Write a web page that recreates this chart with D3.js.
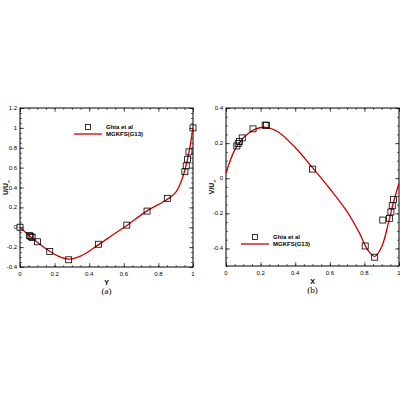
<!DOCTYPE html><html><head><script src="https://cdn.jsdelivr.net/npm/d3@7"></script>
<style>body{margin:0;background:#fff}text{font-family:"Liberation Sans",Arial,sans-serif}</style></head><body>
<svg id="c" width="400" height="400"></svg>
<script>
const ghiaY=[0,0.0547,0.0625,0.0703,0.1016,0.1719,0.2813,0.4531,0.6172,0.7344,0.8516,0.9531,0.9609,0.9688,0.9766,1];
const ghiaU=[0,-0.08186,-0.09266,-0.10338,-0.14612,-0.24299,-0.32726,-0.17119,0.02135,0.16256,0.29093,0.55892,0.61756,0.68439,0.75837,1];
const ghiaX=[0.0625,0.0703,0.0781,0.0938,0.1563,0.2266,0.2344,0.5,0.8047,0.8594,0.9063,0.9453,0.9531,0.9609,0.9688];
const ghiaV=[0.1836,0.19713,0.2092,0.22965,0.28124,0.30203,0.30174,0.05186,-0.38598,-0.44993,-0.23827,-0.22847,-0.19254,-0.15663,-0.12146];
const curveAY=[0,0.05,0.1,0.17,0.22,0.28,0.35,0.45,0.55,0.62,0.73,0.85,0.9,0.94,0.97,1];
const curveAU=[0,-0.08,-0.15,-0.24,-0.29,-0.32,-0.29,-0.18,-0.06,0.02,0.16,0.28,0.35,0.5,0.7,1];
const curveBX=[0,0.05,0.1,0.17,0.23,0.3,0.4,0.5,0.6,0.7,0.77,0.82,0.86,0.9,0.94,0.97,1];
const curveBV=[0.03,0.16,0.23,0.28,0.29,0.265,0.175,0.06,-0.06,-0.19,-0.31,-0.41,-0.445,-0.39,-0.25,-0.13,-0.03];
const ticksA=[-0.4,-0.2,0,0.2,0.4,0.6,0.8,1,1.2];
const ticksB=[-0.4,-0.2,0,0.2,0.4];
const ticksX=[0,0.2,0.4,0.6,0.8,1];
const svg=d3.select("#c");
function panel(o){
  const g=svg.append("g");
  const x=d3.scaleLinear().domain([0,1]).range([o.x0,o.x1]);
  const y=d3.scaleLinear().domain(o.yd).range([o.y1,o.y0]);
  g.append("rect").attr("x",o.x0).attr("y",o.y0).attr("width",o.x1-o.x0).attr("height",o.y1-o.y0).attr("fill","none").attr("stroke","#000").attr("stroke-width",1);
  const minorX=d3.range(0,1.0001,0.05), minorY=d3.range(o.yd[0],o.yd[1]+1e-6,0.05);
  const tk=(ax,vals,len)=>ax.tickValues(vals).tickSize(len).tickFormat("");
  g.append("g").attr("transform",`translate(0,${o.y1})`).call(tk(d3.axisTop(x),minorX,2));
  g.append("g").attr("transform",`translate(0,${o.y0})`).call(tk(d3.axisBottom(x),minorX,2));
  g.append("g").attr("transform",`translate(${o.x0},0)`).call(tk(d3.axisRight(y),minorY,2));
  g.append("g").attr("transform",`translate(${o.x1},0)`).call(tk(d3.axisLeft(y),minorY,2));
  g.append("g").attr("transform",`translate(0,${o.y1})`).call(tk(d3.axisTop(x),ticksX,4));
  g.append("g").attr("transform",`translate(0,${o.y0})`).call(tk(d3.axisBottom(x),ticksX,4));
  g.append("g").attr("transform",`translate(${o.x0},0)`).call(tk(d3.axisRight(y),o.ty,4));
  g.append("g").attr("transform",`translate(${o.x1},0)`).call(tk(d3.axisLeft(y),o.ty,4));
  g.selectAll(".domain").remove();
  g.selectAll(".tick line").attr("stroke","#000").attr("stroke-width",0.6);
  g.selectAll(".xl").data(ticksX).join("text").attr("x",d=>x(d)).attr("y",o.y1+9).attr("text-anchor","middle").attr("font-size",6).text(d=>d);
  g.selectAll(".yl").data(o.ty).join("text").attr("x",o.x0-3).attr("y",d=>y(d)+2).attr("text-anchor","end").attr("font-size",6).text(d=>d);
  g.append("text").attr("x",(o.x0+o.x1)/2).attr("y",o.y1+18).attr("text-anchor","middle").attr("font-size",7).attr("font-weight","bold").text(o.xt);
  const yt=g.append("text").attr("transform",`translate(${o.x0-12},${(o.y0+o.y1)/2}) rotate(-90)`).attr("text-anchor","middle").attr("font-size",7).attr("font-weight","bold");
  yt.append("tspan").text(o.yt); yt.append("tspan").attr("font-size",4).attr("dy",1.5).text("∞");
  g.append("text").attr("x",(o.x0+o.x1)/2).attr("y",o.y1+27).attr("text-anchor","middle").attr("font-size",9).style("font-family","'Liberation Serif',serif").text(o.cap);
  g.append("path").attr("d",d3.line().x(d=>x(d[0])).y(d=>y(d[1])).curve(d3.curveCatmullRom)(d3.zip(o.cx,o.cy))).attr("fill","none").attr("stroke","#cc0000").attr("stroke-width",1.3);
  g.selectAll(".pt").data(d3.zip(o.px,o.py)).join("rect").attr("x",d=>x(d[0])-3).attr("y",d=>y(d[1])-3).attr("width",6).attr("height",6).attr("fill","none").attr("stroke","#000").attr("stroke-width",0.8);
  const L=o.leg;
  g.append("rect").attr("x",L[0]-2.5).attr("y",L[1]-2.5).attr("width",5).attr("height",5).attr("fill","none").attr("stroke","#000").attr("stroke-width",0.8);
  g.append("line").attr("x1",L[0]-14).attr("x2",L[0]+14).attr("y1",L[1]+7).attr("y2",L[1]+7).attr("stroke","#cc0000").attr("stroke-width",1.3);
  g.append("text").attr("x",L[0]+18).attr("y",L[1]+2).attr("font-size",6).attr("font-weight","bold").text("Ghia et al");
  g.append("text").attr("x",L[0]+18).attr("y",L[1]+9).attr("font-size",6).attr("font-weight","bold").text("MGKFS(G13)");
}
panel({x0:20,x1:193,y0:108,y1:267,yd:[-0.4,1.2],ty:ticksA,xt:"Y",yt:"U/U",cap:"(a)",cx:curveAY,cy:curveAU,px:ghiaY,py:ghiaU,leg:[88,127]});
panel({x0:226,x1:399,y0:108,y1:266,yd:[-0.5,0.4],ty:ticksB,xt:"X",yt:"V/U",cap:"(b)",cx:curveBX,cy:curveBV,px:ghiaX,py:ghiaV,leg:[255,237]});
</script></body></html>
